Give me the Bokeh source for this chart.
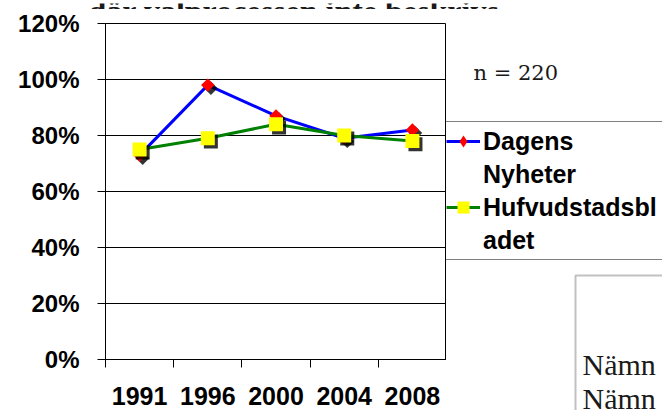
from math import pi
from bokeh.plotting import figure
from bokeh.layouts import column, row
from bokeh.models import (Range1d, FixedTicker, PrintfTickFormatter, BoxAnnotation,
                          Legend, LegendItem, Label, ColumnDataSource)
from bokeh.transform import dodge
from bokeh.embed import file_html
from bokeh.resources import INLINE

# ---- data ----
years = ["1991", "1996", "2000", "2004", "2008"]
dagens_nyheter = [73, 98, 87, 79, 82]
hufvudstadsbladet = [75, 79, 84, 80, 78]
y_ticks = [0, 20, 40, 60, 80, 100, 120]
legend_rows = [["Dagens", "Nyheter"], ["Hufvudstadsbl", "adet"]]
title_text = "där valprocessen inte beskrivs"
n_text = "n = 220"
box_lines = ["Nämn", "Nämn"]

idx = list(range(len(years)))
src = ColumnDataSource(dict(i=idx, year=years, dn=dagens_nyheter, hbl=hufvudstadsbladet))

AX_FONT = "Liberation Sans"
DN_LINE, DN_MARK = "#0000FF", "#FF0000"
HB_LINE, HB_MARK = "#008000", "#FFFF00"


def no_align(f):
    if "frame_align" in f.properties():
        f.frame_align = False
    return f


def blank_fig(w, h):
    f = figure(width=w, height=h, x_range=Range1d(0, w), y_range=Range1d(0, h),
               output_backend="svg", toolbar_location=None,
               x_axis_location=None, y_axis_location=None,
               min_border_left=0, min_border_right=0, min_border_top=0, min_border_bottom=0)
    f.grid.visible = False
    f.outline_line_color = None
    f.background_fill_color = "white"
    f.border_fill_color = "white"
    return no_align(f)


# ---- title strip (only the lower part of the title is visible) ----
tfig = blank_fig(662, 9)
tfig.add_layout(Label(x=88, y=2, text=title_text, text_font="Liberation Serif",
                      text_font_style="bold", text_font_size="32px",
                      text_baseline="alphabetic", text_color="#1a1a1a"))

# ---- main chart ----
p = figure(width=446, height=401, x_range=Range1d(-0.5, len(years) - 0.5), y_range=Range1d(0, 120),
           output_backend="svg", toolbar_location=None,
           min_border_left=105, min_border_right=0, min_border_top=14, min_border_bottom=51)
no_align(p)
p.background_fill_color = "white"
p.border_fill_color = "white"
p.outline_line_color = "black"
p.outline_line_width = 1
p.xgrid.visible = False
p.ygrid.ticker = FixedTicker(ticks=y_ticks)
p.ygrid.grid_line_color = "black"
p.ygrid.grid_line_width = 1

yax = p.yaxis[0]
yax.ticker = FixedTicker(ticks=y_ticks)
yax.formatter = PrintfTickFormatter(format="%d%%")
yax.major_tick_out = 8
yax.major_tick_in = 0
yax.minor_tick_line_color = None
yax.axis_line_color = "black"
yax.major_tick_line_color = "black"
yax.major_label_text_font = AX_FONT
yax.major_label_text_font_style = "bold"
yax.major_label_text_font_size = "24px"
yax.major_label_text_color = "black"
yax.major_label_standoff = 18

xax = p.xaxis[0]
xax.ticker = FixedTicker(ticks=idx, minor_ticks=[i - 0.5 for i in range(len(years) + 1)])
xax.major_label_overrides = {i: y for i, y in zip(idx, years)}
xax.axis_line_color = "black"
xax.major_tick_line_color = None
xax.major_tick_out = 0
xax.major_tick_in = 0
xax.minor_tick_line_color = "black"
xax.minor_tick_out = 8
xax.minor_tick_in = 0
xax.major_label_text_font = AX_FONT
xax.major_label_text_font_style = "bold"
xax.major_label_text_font_size = "25px"
xax.major_label_text_color = "black"
xax.major_label_standoff = 19

p.line("i", "dn", source=src, line_color=DN_LINE, line_width=3)
p.scatter(x=dodge("i", 0.045), y=dodge("dn", -1.1), source=src, marker="square", angle=pi / 4,
          size=9.5, fill_color="black", line_color=None, fill_alpha=0.8)
p.scatter("i", "dn", source=src, marker="square", angle=pi / 4, size=9.5,
          fill_color=DN_MARK, line_color=None)
p.line("i", "hbl", source=src, line_color=HB_LINE, line_width=3)
p.scatter(x=dodge("i", 0.045), y=dodge("hbl", -1.1), source=src, marker="square", size=14,
          fill_color="black", line_color=None, fill_alpha=0.8)
p.scatter("i", "hbl", source=src, marker="square", size=14, fill_color=HB_MARK, line_color=None)

# ---- right-hand side: legend, n, partly visible box ----
side = blank_fig(216, 401)
# hidden stand-ins that only supply the legend keys
kl1 = side.line("i", "dn", source=src, line_color=DN_LINE, line_width=3, visible=False)
km1 = side.scatter("i", "dn", source=src, marker="diamond", fill_color=DN_MARK, line_color=None,
                   visible=False)
kl2 = side.line("i", "hbl", source=src, line_color=HB_LINE, line_width=3, visible=False)
km2 = side.scatter("i", "hbl", source=src, marker="square", fill_color=HB_MARK, line_color=None,
                   visible=False)

items = [LegendItem(label=legend_rows[0][0], renderers=[kl1, km1]),
         LegendItem(label=legend_rows[0][1], renderers=[]),
         LegendItem(label=legend_rows[1][0], renderers=[kl2, km2]),
         LegendItem(label=legend_rows[1][1], renderers=[])]
legend = Legend(items=items, location=(-5, 150), border_line_color="black", border_line_width=1,
                background_fill_color="white", background_fill_alpha=1,
                inactive_fill_alpha=0,
                label_text_font=AX_FONT, label_text_font_style="bold", label_text_font_size="25px",
                label_text_color="black", label_height=30,
                glyph_width=34, glyph_height=30, label_standoff=3, padding=4, spacing=3,
                margin=0, label_width=200)
side.add_layout(legend)

side.add_layout(Label(x=27, y=338, text=n_text, text_font="DejaVu Serif", text_font_size="21px",
                      text_baseline="middle", text_color="#1a1a1a"))
side.add_layout(BoxAnnotation(left=129, right=400, top=135, bottom=-20, fill_color="white",
                              fill_alpha=1, line_color="#333333", line_width=2))
for k, t in enumerate(box_lines):
    side.add_layout(Label(x=136, y=46 - 34 * k, text=t, text_font="Liberation Serif",
                          text_font_size="30px", text_baseline="alphabetic", text_color="#1a1a1a"))

layout = column(tfig, row(p, side, spacing=0), spacing=0)
open("out.html", "w").write(file_html(layout, INLINE))
